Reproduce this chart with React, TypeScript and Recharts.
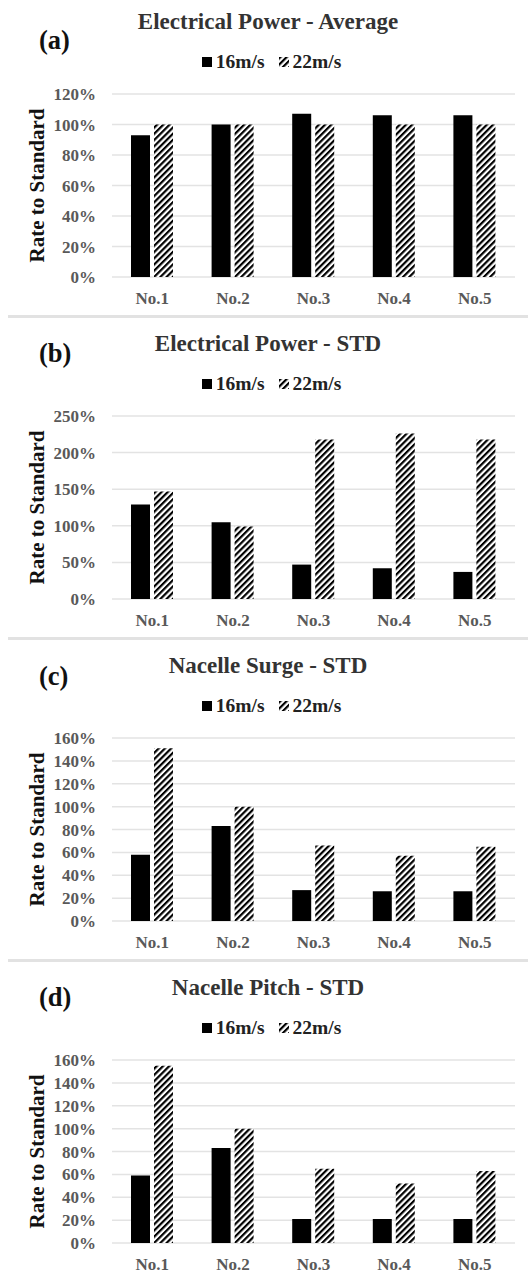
import React from "react";
import { Bar, BarChart, CartesianGrid, Legend, XAxis, YAxis } from "recharts";

const categories = ["No.1", "No.2", "No.3", "No.4", "No.5"];

const powerAvg16 = [0.93, 1.0, 1.07, 1.06, 1.06];
const powerAvg22 = [1.0, 1.0, 1.0, 1.0, 1.0];
const powerStd16 = [1.29, 1.05, 0.47, 0.42, 0.37];
const powerStd22 = [1.47, 0.99, 2.18, 2.26, 2.18];
const surgeStd16 = [0.58, 0.83, 0.27, 0.26, 0.26];
const surgeStd22 = [1.51, 1.0, 0.66, 0.57, 0.65];
const pitchStd16 = [0.59, 0.83, 0.21, 0.21, 0.21];
const pitchStd22 = [1.55, 1.0, 0.65, 0.52, 0.63];

const ticks120 = [0, 0.2, 0.4, 0.6, 0.8, 1.0, 1.2];
const ticks250 = [0, 0.5, 1.0, 1.5, 2.0, 2.5];
const ticks160 = [0, 0.2, 0.4, 0.6, 0.8, 1.0, 1.2, 1.4, 1.6];

const FONT = '"Liberation Serif", "Times New Roman", serif';

function HatchDef({ id }: { id: string }) {
  return (
    <pattern
      id={id}
      patternUnits="userSpaceOnUse"
      width={4.4}
      height={4.4}
      patternTransform="rotate(45)"
    >
      <rect width={4.4} height={4.4} fill="#fff" />
      <line x1={1.1} y1={0} x2={1.1} y2={4.4} stroke="#000" strokeWidth={2.2} />
    </pattern>
  );
}

function LegendContent({ payload, id }: any) {
  return (
    <div
      style={{
        display: "flex",
        justifyContent: "center",
        alignItems: "center",
        height: 20,
        fontFamily: FONT,
        fontWeight: "bold",
        fontSize: 19.5,
        color: "#222",
      }}
    >
      {(payload || []).map((item: any, i: number) => (
        <span
          key={item.value}
          style={{ display: "flex", alignItems: "center", marginLeft: i ? 14 : 0 }}
        >
          <svg width={10} height={10} style={{ marginRight: 4 }}>
            <defs>
              <HatchDef id={`${id}-lg`} />
            </defs>
            <rect
              width={10}
              height={10}
              fill={item.dataKey === "v22" ? `url(#${id}-lg)` : "#000"}
            />
          </svg>
          {item.value}
        </span>
      ))}
    </div>
  );
}

function YLabel({ viewBox }: any) {
  const cx = viewBox.x + 37;
  const cy = viewBox.y + viewBox.height / 2;
  return (
    <text
      x={cx}
      y={cy}
      transform={`rotate(-90 ${cx} ${cy})`}
      textAnchor="middle"
      dominantBaseline="central"
      fontFamily={FONT}
      fontWeight="bold"
      fontSize={21}
      fill="#111"
    >
      Rate to Standard
    </text>
  );
}

function Panel({
  id,
  letter,
  letterTop,
  title,
  s16,
  s22,
  ticks,
}: {
  id: string;
  letter: string;
  letterTop: number;
  title: string;
  s16: number[];
  s22: number[];
  ticks: number[];
}) {
  const data = categories.map((name, i) => ({ name, v16: s16[i], v22: s22[i] }));
  const tickStyle = {
    fontFamily: FONT,
    fontWeight: "bold",
    fontSize: 17,
    fill: "#595959",
  };
  return (
    <div style={{ position: "relative", width: 528, height: 322 }}>
      <div
        style={{
          position: "absolute",
          left: 8,
          right: 0,
          top: -1,
          height: 3,
          background: "#e2e2e2",
        }}
      />
      <div
        style={{
          position: "absolute",
          left: 0,
          width: 536,
          top: 14,
          lineHeight: "28px",
          textAlign: "center",
          fontFamily: FONT,
          fontWeight: "bold",
          fontSize: 23,
          color: "#333",
        }}
      >
        {title}
      </div>
      <div
        style={{
          position: "absolute",
          left: 39,
          top: letterTop,
          lineHeight: "30px",
          fontFamily: FONT,
          fontWeight: "bold",
          fontSize: 26.5,
          color: "#111",
        }}
      >
        {letter}
      </div>
      <BarChart
        width={528}
        height={322}
        data={data}
        margin={{ top: 80, right: 13, bottom: 9, left: 0 }}
        barGap={4}
        barSize={19}
        style={{ position: "absolute", left: 0, top: 0 }}
      >
        <defs>
          <HatchDef id={`${id}-hatch`} />
        </defs>
        <CartesianGrid vertical={false} stroke="#e3e3e3" strokeWidth={1.5} />
        <XAxis
          dataKey="name"
          tickLine={false}
          axisLine={false}
          tickMargin={9}
          tick={tickStyle}
          height={30}
        />
        <YAxis
          width={112}
          domain={[0, ticks[ticks.length - 1]]}
          ticks={ticks}
          tickFormatter={(v: number) => `${Math.round(v * 100)}%`}
          tickLine={false}
          axisLine={false}
          tickMargin={10}
          tick={tickStyle}
          interval={0}
          label={<YLabel />}
        />
        <Legend
          verticalAlign="top"
          height={20}
          wrapperStyle={{ top: 58, left: 14, width: 515 }}
          content={(props: any) => <LegendContent {...props} id={id} />}
        />
        <Bar dataKey="v16" name="16m/s" fill="#000" isAnimationActive={false} />
        <Bar
          dataKey="v22"
          name="22m/s"
          fill={`url(#${id}-hatch)`}
          isAnimationActive={false}
        />
      </BarChart>
    </div>
  );
}

export default function App() {
  return (
    <div
      style={{
        position: "absolute",
        left: 0,
        top: 0,
        width: 528,
        height: 1278,
        overflow: "hidden",
        background: "#fff",
      }}
    >
      <div style={{ marginTop: -6 }}>
        <Panel
          id="pa"
          letter="(a)"
          letterTop={31}
          title="Electrical Power - Average"
          s16={powerAvg16}
          s22={powerAvg22}
          ticks={ticks120}
        />
        <Panel
          id="pb"
          letter="(b)"
          letterTop={22}
          title="Electrical Power - STD"
          s16={powerStd16}
          s22={powerStd22}
          ticks={ticks250}
        />
        <Panel
          id="pc"
          letter="(c)"
          letterTop={23}
          title="Nacelle Surge - STD"
          s16={surgeStd16}
          s22={surgeStd22}
          ticks={ticks160}
        />
        <Panel
          id="pd"
          letter="(d)"
          letterTop={22}
          title="Nacelle Pitch - STD"
          s16={pitchStd16}
          s22={pitchStd22}
          ticks={ticks160}
        />
      </div>
    </div>
  );
}
